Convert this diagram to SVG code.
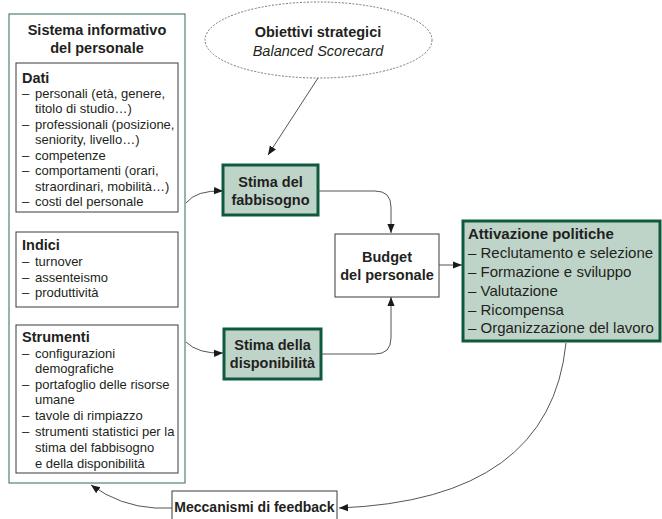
<svg xmlns="http://www.w3.org/2000/svg" width="662" height="519" viewBox="0 0 662 519">
<style>
text{font-family:"Liberation Sans",Arial,sans-serif;fill:#231f20}
.b{font-size:13px}
.h{font-size:14.5px;font-weight:bold}
.t{font-size:14.5px;font-weight:bold}
.m{text-anchor:middle}
.thin{fill:#fff;stroke:#3a3a3a;stroke-width:1}
.green{fill:#bed4c9;stroke:#0f5a3c;stroke-width:3}
.conn{fill:none;stroke:#555;stroke-width:1}
</style>
<defs>
<marker id="ah" viewBox="0 0 10 10" refX="10" refY="5" markerWidth="9" markerHeight="9" markerUnits="userSpaceOnUse" orient="auto">
<path d="M0,1 L10,5 L0,9 z" fill="#1a1a1a"/>
</marker>
</defs>
<g id="sistema">
<rect x="9" y="14" width="176" height="469" fill="#fff" stroke="#2e6b50" stroke-width="1"/>
<text class="t m" x="97" y="35">Sistema informativo</text>
<text class="t m" x="97" y="53">del personale</text>
</g>
<g id="dati">
<rect class="thin" x="16" y="63" width="162" height="149"/>
<text class="h" x="22" y="83">Dati</text>
<g class="b">
<text x="22" y="97.5">–</text><text x="35" y="97.5">personali (età, genere,</text>
<text x="35" y="113">titolo di studio…)</text>
<text x="22" y="128.5">–</text><text x="35" y="128.5">professionali (posizione,</text>
<text x="35" y="144">seniority, livello…)</text>
<text x="22" y="159.5">–</text><text x="35" y="159.5">competenze</text>
<text x="22" y="175">–</text><text x="35" y="175">comportamenti (orari,</text>
<text x="35" y="190.5">straordinari, mobilità…)</text>
<text x="22" y="206">–</text><text x="35" y="206">costi del personale</text>
</g>
</g>
<g id="indici">
<rect class="thin" x="16" y="232" width="162" height="75"/>
<text class="h" x="22" y="250">Indici</text>
<g class="b">
<text x="22" y="266">–</text><text x="35" y="266">turnover</text>
<text x="22" y="281.5">–</text><text x="35" y="281.5">assenteismo</text>
<text x="22" y="297">–</text><text x="35" y="297">produttività</text>
</g>
</g>
<g id="strumenti">
<rect class="thin" x="16" y="325" width="162" height="148"/>
<text class="h" x="22" y="342">Strumenti</text>
<g class="b">
<text x="22" y="357.5">–</text><text x="35" y="357.5">configurazioni</text>
<text x="35" y="373">demografiche</text>
<text x="22" y="388.5">–</text><text x="35" y="388.5">portafoglio delle risorse</text>
<text x="35" y="404">umane</text>
<text x="22" y="420">–</text><text x="35" y="420">tavole di rimpiazzo</text>
<text x="22" y="436">–</text><text x="35" y="436">strumenti statistici per la</text>
<text x="35" y="452">stima del fabbisogno</text>
<text x="35" y="467.5">e della disponibilità</text>
</g>
</g>
<g id="obiettivi">
<ellipse cx="318.5" cy="40" rx="113.5" ry="38" fill="#fff" stroke="#777" stroke-width="1" stroke-dasharray="2,1.5"/>
<text class="t m" x="318" y="37">Obiettivi strategici</text>
<text class="m" x="318" y="56" font-size="14.5" font-style="italic">Balanced Scorecard</text>
</g>
<g id="fabbisogno">
<rect class="green" x="223" y="165" width="95" height="50"/>
<text class="t m" x="270.5" y="187">Stima del</text>
<text class="t m" x="270.5" y="205">fabbisogno</text>
</g>
<g id="disponibilita">
<rect class="green" x="224" y="329" width="97" height="50"/>
<text class="t m" x="272.5" y="350">Stima della</text>
<text class="t m" x="272.5" y="368">disponibilità</text>
</g>
<g id="budget">
<rect class="thin" x="335" y="234" width="104" height="63"/>
<text class="t m" x="387" y="262">Budget</text>
<text class="t m" x="387" y="280">del personale</text>
</g>
<g id="attivazione">
<rect class="green" x="463" y="221" width="197" height="120"/>
<text x="468" y="239" font-size="15" font-weight="bold">Attivazione politiche</text>
<g font-size="15">
<text x="468" y="258">– Reclutamento e selezione</text>
<text x="468" y="277">– Formazione e sviluppo</text>
<text x="468" y="296">– Valutazione</text>
<text x="468" y="315">– Ricompensa</text>
<text x="468" y="333">– Organizzazione del lavoro</text>
</g>
</g>
<g id="feedback">
<rect class="thin" x="172" y="491" width="165" height="32"/>
<text class="m" x="254.5" y="512" font-size="14" font-weight="bold">Meccanismi di feedback</text>
</g>
<g id="connectors">
<path class="conn" d="M318,78 L268,155" marker-end="url(#ah)"/>
<path class="conn" d="M186,203 Q196,190 223,191" marker-end="url(#ah)"/>
<path class="conn" d="M186,342 Q198,354 223,353" marker-end="url(#ah)"/>
<path class="conn" d="M318,191 L375,191 Q391,191 391,207 L391,233" marker-end="url(#ah)"/>
<path class="conn" d="M321,354 L375,354 Q391,354 391,338 L391,297" marker-end="url(#ah)"/>
<path class="conn" d="M439,265 L462,265" marker-end="url(#ah)"/>
<path class="conn" d="M566,343 Q550,500 339,508" marker-end="url(#ah)"/>
<path class="conn" d="M172,508 L155,508 Q120,506 91,485" marker-end="url(#ah)"/>
</g>
</svg>
